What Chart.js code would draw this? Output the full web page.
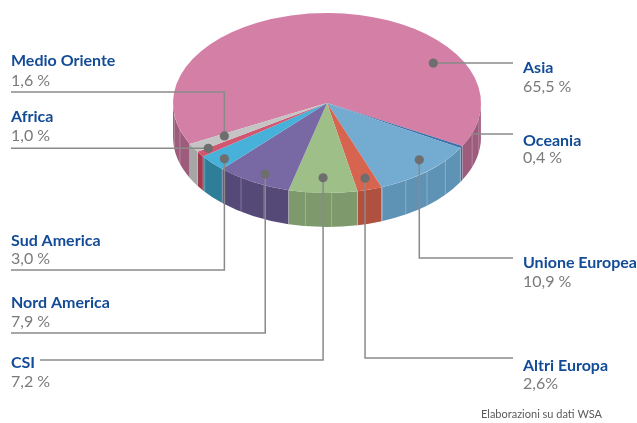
<!DOCTYPE html>
<html>
<head>
<meta charset="utf-8">
<script src="https://cdn.jsdelivr.net/npm/chart.js@4.4.0/dist/chart.umd.min.js"></script>
<style>
    html, body { margin: 0; padding: 0; background: #fff; }
    #wrap { width: 637px; height: 423px; }
</style>
</head>
<body>
<div id="wrap"><canvas id="myChart" width="637" height="423"></canvas></div>
<script>
const regions = ['Asia', 'Oceania', 'Unione Europea', 'Altri Europa', 'CSI', 'Nord America', 'Sud America', 'Africa', 'Medio Oriente'];
const shares = [65.5, 0.4, 10.9, 2.6, 7.2, 7.9, 3.0, 1.0, 1.6];
const topColors = ['#d480a6', '#3f6fa8', '#74abd1', '#d7644f', '#9fbf89', '#7869a5', '#48b1da', '#d2566f', '#c4c4c4'];
const sideColors = ['#9e5c7d', '#3a5f8e', '#5f93b6', '#b0503f', '#7e9a6c', '#554977', '#2f7e99', '#a03a50', '#a6a6a6'];

// where each label sits and how its leader runs (ly null = straight line at the dot height)
const labelLayout = [
    { side: 'right', ty: 68, vy: 87, ly: null, ex: 513, af: 0.74, rf: 0.82, dot: true, gap: ' ' },
    { side: 'right', ty: 141, vy: 158, ly: 134, ex: 513, af: 0.5, rf: 1.0, dot: false, gap: ' ' },
    { side: 'right', ty: 263, vy: 282, ly: 258, ex: 513, af: 0.42, rf: 0.87, dot: true, gap: ' ' },
    { side: 'right', ty: 366, vy: 384, ly: 358, ex: 513, af: 0.46, rf: 0.87, dot: true, gap: '' },
    { side: 'left', ty: 363, vy: 382, ly: 360, ex: 40, af: 0.51, rf: 0.83, dot: true, gap: ' ' },
    { side: 'left', ty: 303, vy: 322, ly: 333, ex: 11, af: 0.44, rf: 0.885, dot: true, gap: ' ' },
    { side: 'left', ty: 241, vy: 259, ly: 270, ex: 11, af: 0.39, rf: 0.91, dot: true, gap: ' ' },
    { side: 'left', ty: 117, vy: 136, ly: null, ex: 11, af: 0.9, rf: 0.92, dot: true, gap: ' ' },
    { side: 'left', ty: 61, vy: 81, ly: 92, ex: 11, af: 0.7, rf: 0.76, dot: true, gap: ' ' }
];

const TOP_Y = 103;      // centre of the tilted top face
const TILT = 0.585;     // vertical squash of the disc
const DEPTH = 34;       // thickness of the wall

const pie3d = {
    id: 'pie3d',
    beforeDatasetsDraw(chart) {
        const ctx = chart.ctx;
        const arcs = chart.getDatasetMeta(0).data;
        const R = arcs[0].outerRadius, cx = arcs[0].x, cy = arcs[0].y;

        // front wall, only the lower half of the disc is visible
        arcs.forEach((arc, i) => {
            [-2, 0, 2].forEach(k => {
                const a0 = Math.max(arc.startAngle + k * Math.PI, 0);
                const a1 = Math.min(arc.endAngle + k * Math.PI, Math.PI);
                if (a1 <= a0) return;
                ctx.beginPath();
                ctx.ellipse(cx, TOP_Y, R, R * TILT, 0, a0, a1);
                ctx.ellipse(cx, TOP_Y + DEPTH, R, R * TILT, 0, a1, a0, true);
                ctx.closePath();
                ctx.fillStyle = sideColors[i];
                ctx.fill();

                // faint seams on the wall
                ctx.strokeStyle = 'rgba(255,255,255,0.25)';
                ctx.lineWidth = 1;
                for (let a = a0; a <= a1 + 0.001; a += 0.17) {
                    const x = cx + Math.cos(a) * R;
                    const y = TOP_Y + Math.sin(a) * R * TILT;
                    ctx.beginPath();
                    ctx.moveTo(x, y);
                    ctx.lineTo(x, y + DEPTH);
                    ctx.stroke();
                }
            });
        });

        // squash the pie itself into the top face
        ctx.save();
        ctx.translate(0, TOP_Y);
        ctx.scale(1, TILT);
        ctx.translate(0, -cy);
    },
    afterDatasetsDraw(chart) {
        const ctx = chart.ctx;
        ctx.restore();

        const arcs = chart.getDatasetMeta(0).data;
        const R = arcs[0].outerRadius, cx = arcs[0].x;

        ctx.save();
        arcs.forEach((arc, i) => {
            const L = labelLayout[i];
            const ang = arc.startAngle + (arc.endAngle - arc.startAngle) * L.af;
            let px = cx + Math.cos(ang) * R * L.rf;
            const py = TOP_Y + Math.sin(ang) * R * L.rf * TILT;
            const ly = L.ly === null ? py : L.ly;

            ctx.strokeStyle = '#8a8a8a';
            ctx.lineWidth = 1.5;
            ctx.beginPath();
            if (L.dot) {
                ctx.moveTo(px, py);
                ctx.lineTo(px, ly);
            } else {
                // no dot: the leader starts at the rim of the disc
                const t = (ly - TOP_Y) / (R * TILT);
                px = cx + R * Math.sqrt(Math.max(0, 1 - t * t));
                ctx.moveTo(px, ly);
            }
            ctx.lineTo(L.ex, ly);
            ctx.stroke();

            if (L.dot) {
                ctx.fillStyle = '#6e6e6e';
                ctx.beginPath();
                ctx.arc(px, py, 4.6, 0, Math.PI * 2);
                ctx.fill();
            }

            const tx = L.side === 'left' ? 11 : 523;
            ctx.textAlign = 'left';
            ctx.textBaseline = 'middle';
            ctx.fillStyle = '#134c96';
            ctx.font = 'bold 16px Lato';
            ctx.fillText(regions[i], tx, L.ty);
            ctx.fillStyle = '#7a7a7a';
            ctx.font = '16px Lato';
            ctx.fillText(shares[i].toFixed(1).replace('.', ',') + L.gap + '%', tx, L.vy);
        });

        ctx.fillStyle = '#5a5a5a';
        ctx.font = '11px Lato';
        ctx.textAlign = 'left';
        ctx.textBaseline = 'middle';
        ctx.fillText('Elaborazioni su dati WSA', 481, 414);
        ctx.restore();
    }
};

const ctx = document.getElementById('myChart').getContext('2d');
new Chart(ctx, {
    type: 'pie',
    data: {
        labels: regions,
        datasets: [{
            data: shares,
            backgroundColor: topColors,
            borderWidth: 0
        }]
    },
    options: {
        responsive: false,
        animation: false,
        events: [],
        rotation: 243,
        layout: {
            padding: { left: 173, right: 156, top: 57, bottom: 58 }
        },
        plugins: {
            legend: { display: false },
            tooltip: { enabled: false }
        }
    },
    plugins: [pie3d]
});
</script>
</body>
</html>
